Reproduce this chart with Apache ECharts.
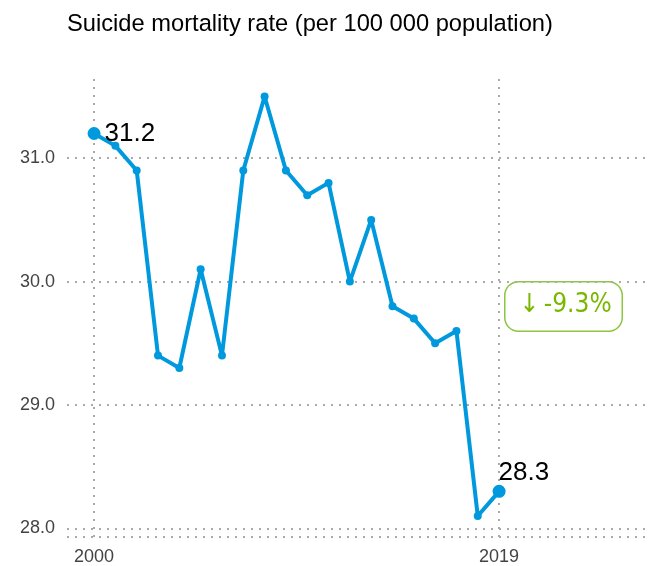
<!DOCTYPE html>
<html>
<head>
<meta charset="utf-8">
<script src="https://cdn.jsdelivr.net/npm/echarts@6/dist/echarts.min.js"></script>
<style>
  html, body { margin: 0; padding: 0; background: #fff; }
  #chart { width: 654px; height: 566px; }
</style>
</head>
<body>
<div id="chart"></div>
<script>
// data
var years = [2000, 2001, 2002, 2003, 2004, 2005, 2006, 2007, 2008, 2009,
             2010, 2011, 2012, 2013, 2014, 2015, 2016, 2017, 2018, 2019];
var rates = [31.2, 31.1, 30.9, 29.4, 29.3, 30.1, 29.4, 30.9, 31.5, 30.9,
             30.7, 30.8, 30.0, 30.5, 29.8, 29.7, 29.5, 29.6, 28.1, 28.3];
var yTicks = [28, 29, 30, 31];
var xTicks = [2000, 2019];
var changeText = '↓\u2009-9.3%';

var yMin = 27.93, yMax = 31.65;
var gridColor = '#aaaaaa';
var lineColor = '#0099dd';
var dotted = { color: gridColor, width: 2, type: [2, 6] };

var last = years.length - 1;
var points = years.map(function (y, i) {
  var item = { value: [y, rates[i]] };
  if (i === 0) {
    item.symbolSize = 13;
    item.label = { show: true, position: 'right', distance: 4 };
  } else if (i === last) {
    item.symbolSize = 13;
    item.label = { show: true, position: 'right', distance: 0, offset: [-7, -19] };
  }
  return item;
});

var chart = echarts.init(document.getElementById('chart'));
chart.setOption({
  animation: false,
  title: {
    text: 'Suicide mortality rate (per 100 000 population)',
    left: 62, top: 7,
    textStyle: { fontFamily: 'Liberation Sans', fontSize: 23.7, fontWeight: 'normal', color: '#000' }
  },
  grid: { left: 67, right: 4, top: 78, bottom: 28, containLabel: false },
  xAxis: {
    type: 'value',
    min: 1998.73, max: 2026.08,
    axisLine: { show: false },
    axisTick: { show: false },
    splitLine: { show: false },
    axisLabel: {
      customValues: xTicks,
      margin: 11,
      fontFamily: 'Liberation Sans', fontSize: 18, color: '#444',
      formatter: function (v) { return String(v); }
    }
  },
  yAxis: {
    type: 'value',
    min: yMin, max: yMax,
    axisLine: { show: false },
    axisTick: { show: false },
    splitLine: { show: false },
    axisLabel: {
      customValues: yTicks,
      margin: 12,
      fontFamily: 'Liberation Sans', fontSize: 18, color: '#444',
      formatter: function (v) { return v.toFixed(1); }
    }
  },
  series: [{
    type: 'line',
    data: points,
    symbol: 'circle',
    symbolSize: 8,
    showAllSymbol: true,
    lineStyle: { color: lineColor, width: 4 },
    itemStyle: { color: lineColor },
    label: { fontFamily: 'Liberation Sans', fontSize: 26, color: '#000' },
    z: 5,
    markLine: {
      silent: true,
      symbol: ['none', 'none'],
      label: { show: false },
      lineStyle: dotted,
      z: 1,
      data: xTicks.map(function (v) { return { xAxis: v }; })
        .concat(yTicks.concat([yMin]).map(function (v) { return { yAxis: v }; }))
    }
  }],
  graphic: [{
    type: 'text',
    left: 504, top: 281,
    style: {
      text: changeText,
      fontFamily: 'DejaVu Sans Condensed', fontSize: 26,
      fill: '#7ab800',
      backgroundColor: '#fff',
      borderColor: '#8cc63f', borderWidth: 1.5, borderRadius: 13,
      padding: [10, 14, 10, 14],
      width: 88, height: 28, align: 'center', verticalAlign: 'middle'
    }
  }]
});
</script>
</body>
</html>
